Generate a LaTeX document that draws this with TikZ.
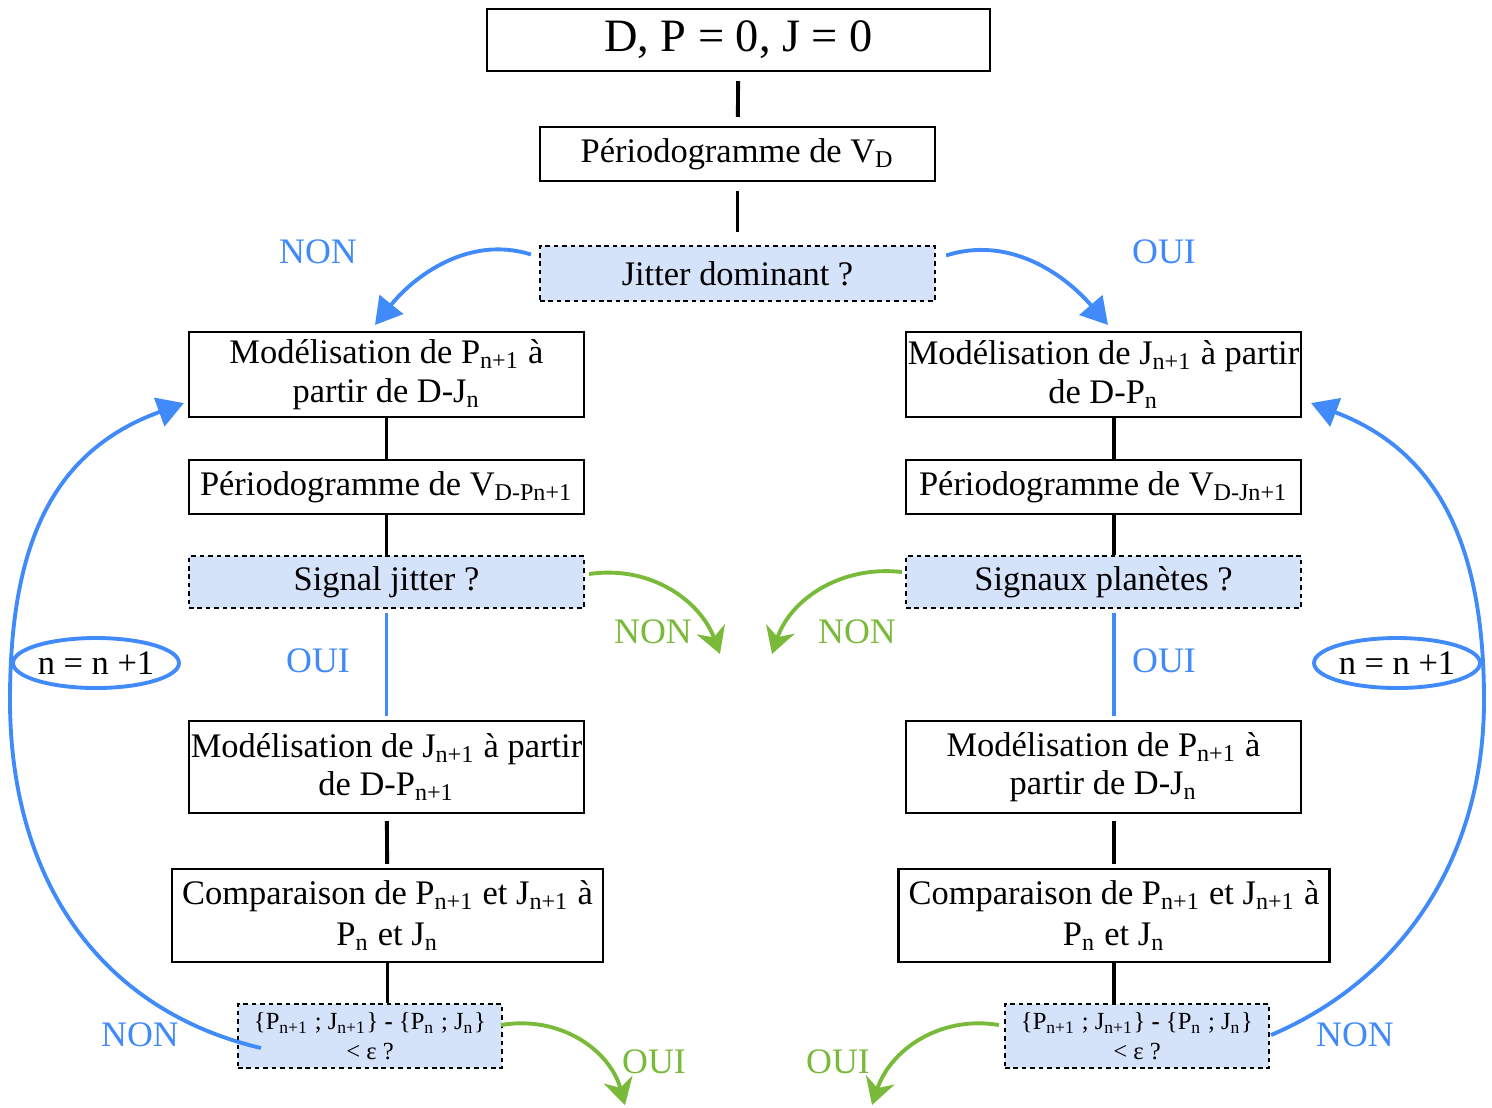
\documentclass[tikz,border=0pt]{standalone}
\usepackage{fontspec}
\setmainfont{Liberation Serif}
\usetikzlibrary{arrows.meta,shapes.geometric}
\definecolor{skyline}{RGB}{64,138,250}
\definecolor{leaf}{RGB}{122,186,58}
\definecolor{askfill}{RGB}{212,226,250}
\newcommand{\ix}[1]{\textsubscript{#1}}
\begin{document}
\begin{tikzpicture}[>=Stealth,font=\fontsize{9.8}{11}\selectfont,
 stepbox/.style={draw,line width=0.6pt,inner sep=0pt,align=center,minimum width=3.95cm},
 askbox/.style={stepbox,fill=askfill,dash pattern=on 1.3pt off 1.1pt},
 tie/.style={line width=1.1pt},
 yesline/.style={skyline,line width=0.9pt,shorten <=0.04cm,shorten >=0.04cm},
 bluearr/.style={skyline,line width=1.1pt,-{Triangle[width=8.5pt,length=7.5pt]}},
 greenarr/.style={leaf,line width=1.1pt,-{Stealth[width=8.5pt,length=7.5pt]}},
 bluelab/.style={text=skyline,font=\fontsize{10.2}{11}\selectfont},
 greenlab/.style={text=leaf,font=\fontsize{10.2}{11}\selectfont},
 loopnode/.style={draw=skyline,line width=1.1pt,ellipse,inner sep=0pt,minimum width=1.66cm,minimum height=0.5cm}]
\useasboundingbox (0,0) rectangle (14.92,-11.07);
% tronc commun
\node[stepbox,minimum width=5.03cm,minimum height=0.62cm,font=\fontsize{13.2}{15}\selectfont] (init) at (7.385,-0.40) {D, P = 0, J = 0};
\node[stepbox,minimum height=0.54cm] (perD) at (7.375,-1.54) {Périodogramme de V\ix{D}};
\node[askbox,minimum height=0.55cm] (jit) at (7.375,-2.735) {Jitter dominant ?};
\draw[tie,shorten <=0.09cm,shorten >=0.09cm] (init) -- (perD);
\draw[tie,shorten <=0.09cm,shorten >=0.13cm] (perD) -- (jit);
% branche gauche
\node[stepbox,minimum height=0.85cm] (mPL) at (3.865,-3.745) {Modélisation de P\ix{n+1} à\\partir de D-J\ix{n}};
\node[stepbox,minimum height=0.54cm] (perL) at (3.865,-4.87) {Périodogramme de V\ix{D-Pn+1}};
\node[askbox,minimum height=0.52cm] (sigL) at (3.865,-5.82) {Signal jitter ?};
\node[stepbox,minimum height=0.92cm] (mJL) at (3.865,-7.67) {Modélisation de J\ix{n+1} à partir\\de D-P\ix{n+1}};
\node[stepbox,minimum width=4.31cm,minimum height=0.93cm,font=\fontsize{9.8}{11.6}\selectfont] (cmpL) at (3.875,-9.155) {Comparaison de P\ix{n+1} et J\ix{n+1} à\\P\ix{n} et J\ix{n}};
\node[askbox,minimum width=2.64cm,minimum height=0.64cm,font=\fontsize{7}{8.4}\selectfont] (epsL) at (3.70,-10.36) {\{P\ix{n+1} ; J\ix{n+1}\} \textbf{-} \{P\ix{n} ; J\ix{n}\}\\< ε ?};
\draw[tie] (mPL) -- (perL);
\draw[tie] (perL) -- (sigL);
\draw[yesline] (sigL) -- (mJL);
\draw[tie,shorten <=0.07cm,shorten >=0.04cm] (mJL) -- (cmpL);
\draw[tie] (cmpL.south) -- (cmpL.south |- epsL.north);
% branche droite
\node[stepbox,minimum height=0.85cm] (mJR) at (11.035,-3.745) {Modélisation de J\ix{n+1} à partir\\de D-P\ix{n}};
\node[stepbox,minimum height=0.54cm] (perR) at (11.035,-4.87) {Périodogramme de V\ix{D-Jn+1}};
\node[askbox,minimum height=0.52cm] (sigR) at (11.035,-5.82) {Signaux planètes ?};
\node[stepbox,minimum height=0.92cm] (mPR) at (11.035,-7.67) {Modélisation de P\ix{n+1} à\\partir de D-J\ix{n}};
\node[stepbox,minimum width=4.31cm,minimum height=0.93cm,font=\fontsize{9.8}{11.6}\selectfont] (cmpR) at (11.14,-9.155) {Comparaison de P\ix{n+1} et J\ix{n+1} à\\P\ix{n} et J\ix{n}};
\node[askbox,minimum width=2.64cm,minimum height=0.64cm,font=\fontsize{7}{8.4}\selectfont] (epsR) at (11.37,-10.36) {\{P\ix{n+1} ; J\ix{n+1}\} \textbf{-} \{P\ix{n} ; J\ix{n}\}\\< ε ?};
\draw[tie] (mJR.south -| cmpR) -- (perR.north -| cmpR);
\draw[tie] (perR.south -| cmpR) -- (sigR.north -| cmpR);
\draw[yesline] (sigR.south -| cmpR) -- (mPR.north -| cmpR);
\draw[tie,shorten <=0.07cm,shorten >=0.04cm] (mPR.south -| cmpR) -- (cmpR);
\draw[tie] (cmpR.south) -- (cmpR.south |- epsR.north);
% etiquettes
\node[bluelab] (nonJ) at (3.18,-2.52) {NON};
\node[bluelab] (ouiJ) at (11.64,-2.52) {OUI};
\node[bluelab] (ouiL) at (3.18,-6.61) {OUI};
\node[bluelab] (ouiR) at (11.64,-6.61) {OUI};
\node[greenlab] (nonSL) at (6.53,-6.32) {NON};
\node[greenlab] (nonSR) at (8.57,-6.32) {NON};
\node[bluelab] (nonEL) at (1.40,-10.35) {NON};
\node[bluelab] (nonER) at (13.55,-10.35) {NON};
\node[greenlab] (ouiEL) at (6.54,-10.62) {OUI};
\node[greenlab] (ouiER) at (8.38,-10.62) {OUI};
\node[loopnode] (incL) at (0.96,-6.63) {n = n +1};
\node[loopnode] (incR) at (13.97,-6.63) {n = n +1};
% fleches
\coordinate (sigLend) at (7.20,-6.54);
\coordinate (sigRend) at (7.72,-6.54);
\coordinate (epsLend) at (6.25,-11.05);
\coordinate (epsRend) at (8.72,-11.05);
\draw[bluearr] ([shift={(-0.08,0.19)}]jit.west) .. controls (4.7,-2.35) and (4.15,-2.75) .. ([xshift=-0.115cm,yshift=0.06cm]mPL.north);
\draw[bluearr] ([shift={(0.1,0.18)}]jit.east) .. controls (10.1,-2.35) and (10.65,-2.75) .. ([xshift=0.045cm,yshift=0.06cm]mJR.north);
\draw[greenarr] ([shift={(0.04,0.08)}]sigL.east) .. controls (6.5,-5.65) and (7.0,-6.0) .. (sigLend);
\draw[greenarr] ([shift={(-0.03,0.1)}]sigR.west) .. controls (8.4,-5.65) and (7.9,-6.0) .. (sigRend);
\draw[greenarr] ([shift={(-0.02,0.11)}]epsL.east) .. controls (5.6,-10.15) and (6.1,-10.5) .. (epsLend);
\draw[greenarr] ([shift={(-0.05,0.11)}]epsR.west) .. controls (9.4,-10.15) and (8.9,-10.5) .. (epsRend);
\draw[bluearr] ([shift={(0.24,-0.12)}]epsL.west) .. controls (1.0,-10.1) and (0.10,-8.8) .. (0.10,-7.0) .. controls (0.10,-5.4) and (0.55,-4.5) .. ([shift={(-0.04,0.15)}]mPL.south west);
\draw[bluearr] ([shift={(0.01,0.01)}]epsR.east) .. controls (14.0,-9.8) and (14.84,-8.6) .. (14.84,-7.0) .. controls (14.84,-5.4) and (14.35,-4.5) .. ([shift={(0.09,0.15)}]mJR.south east);
\end{tikzpicture}
\end{document}
